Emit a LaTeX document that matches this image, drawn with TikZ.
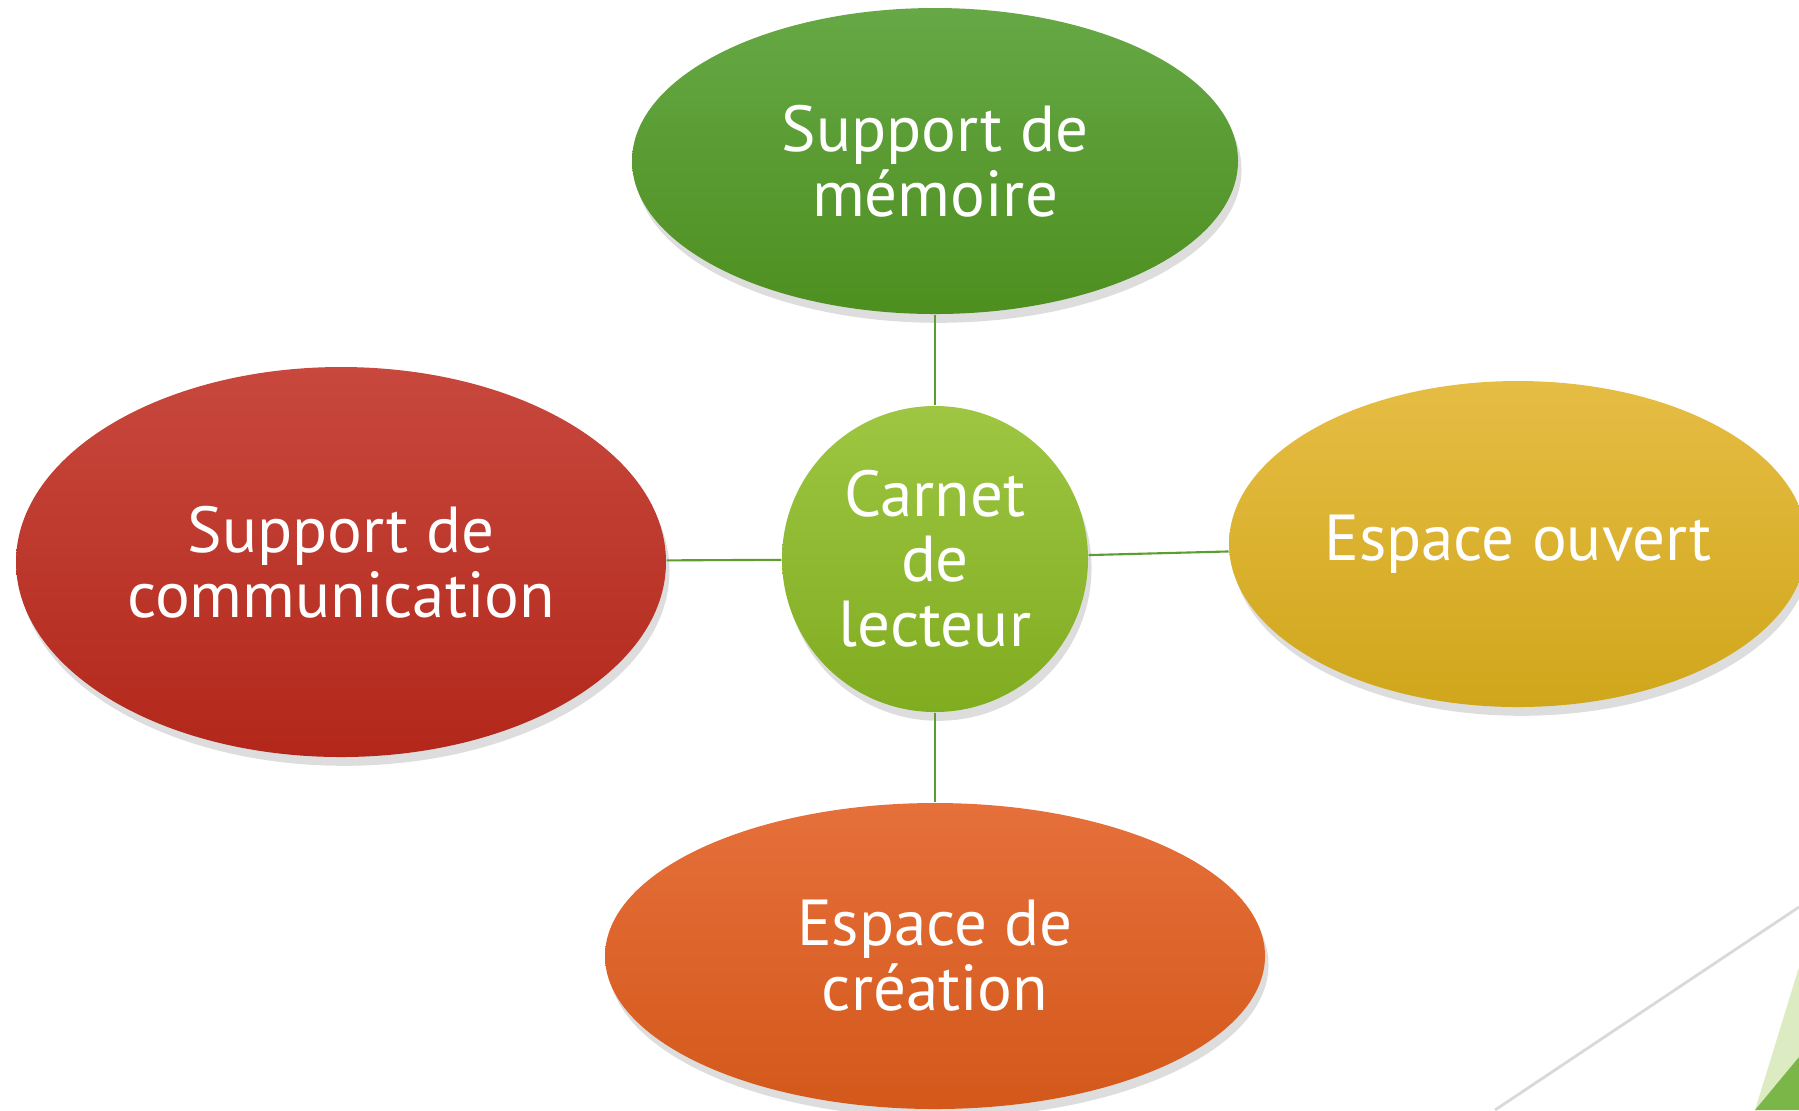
\documentclass[tikz,border=0pt]{standalone}
\usepackage{fontspec}
\setmainfont{PT Sans}
\usepackage{tikz}
\usetikzlibrary{shapes.geometric, shadows}

\definecolor{linkgreen}{HTML}{5A9E2E}
\definecolor{memtop}{HTML}{66A845}
\definecolor{membot}{HTML}{4D8F1F}
\definecolor{comtop}{HTML}{C8483E}
\definecolor{combot}{HTML}{B2271A}
\definecolor{ouvtop}{HTML}{E6BD44}
\definecolor{ouvbot}{HTML}{D0A61B}
\definecolor{cretop}{HTML}{E6703B}
\definecolor{crebot}{HTML}{D3581A}
\definecolor{cartop}{HTML}{9EC642}
\definecolor{carbot}{HTML}{80AC20}
\definecolor{facetlight}{HTML}{DDEBC3}
\definecolor{facetdark}{HTML}{7AB648}
\definecolor{facetgrey}{HTML}{D9D9D9}

\tikzset{
    bubble/.style={ellipse, inner sep=0pt, text=white, align=center,
        font=\fontsize{18.5}{18.5}\selectfont,
        drop shadow={shadow xshift=1pt, shadow yshift=-2.5pt, opacity=0.22, fill=black!60}},
    hub/.style={bubble, circle, minimum size=3.06cm},
    link/.style={draw=linkgreen, line width=0.6pt}
}

\begin{document}
\begin{tikzpicture}
        \useasboundingbox (0,0) rectangle (17.99,-11.10);

        % corner of the slide
        \coordinate (G1) at (14.95,-11.10);
        \coordinate (G2) at (17.99,-9.07);
        \fill[facetlight] (17.55,-11.10) -- (17.99,-9.67) -- (17.99,-11.10) -- cycle;
        \fill[facetdark] (17.55,-11.10) -- (17.99,-10.57) -- (17.99,-11.10) -- cycle;
        \draw[facetgrey, line width=0.8pt] (G1) -- (G2);

        \node[bubble, minimum width=6.06cm, minimum height=3.06cm,
            top color=memtop, bottom color=membot] (memoire) at (9.35,-1.61) {Support de\\mémoire};
        \node[bubble, minimum width=6.50cm, minimum height=3.90cm,
            top color=comtop, bottom color=combot] (comm) at (3.41,-5.62) {Support de\\communication};
        \node[bubble, minimum width=5.78cm, minimum height=3.26cm,
            top color=ouvtop, bottom color=ouvbot] (ouvert) at (15.18,-5.44) {Espace ouvert};
        \node[bubble, minimum width=6.60cm, minimum height=3.06cm,
            top color=cretop, bottom color=crebot] (creation) at (9.35,-9.56) {Espace de\\création};
        \node[hub, top color=cartop, bottom color=carbot] (carnet) at (9.35,-5.59) {Carnet\\de\\lecteur};

        \draw[link] (carnet) -- (memoire);
        \draw[link] (carnet) -- (comm);
        \draw[link] (carnet) -- (ouvert);
        \draw[link] (carnet) -- (creation);
    \end{tikzpicture}
\end{document}
